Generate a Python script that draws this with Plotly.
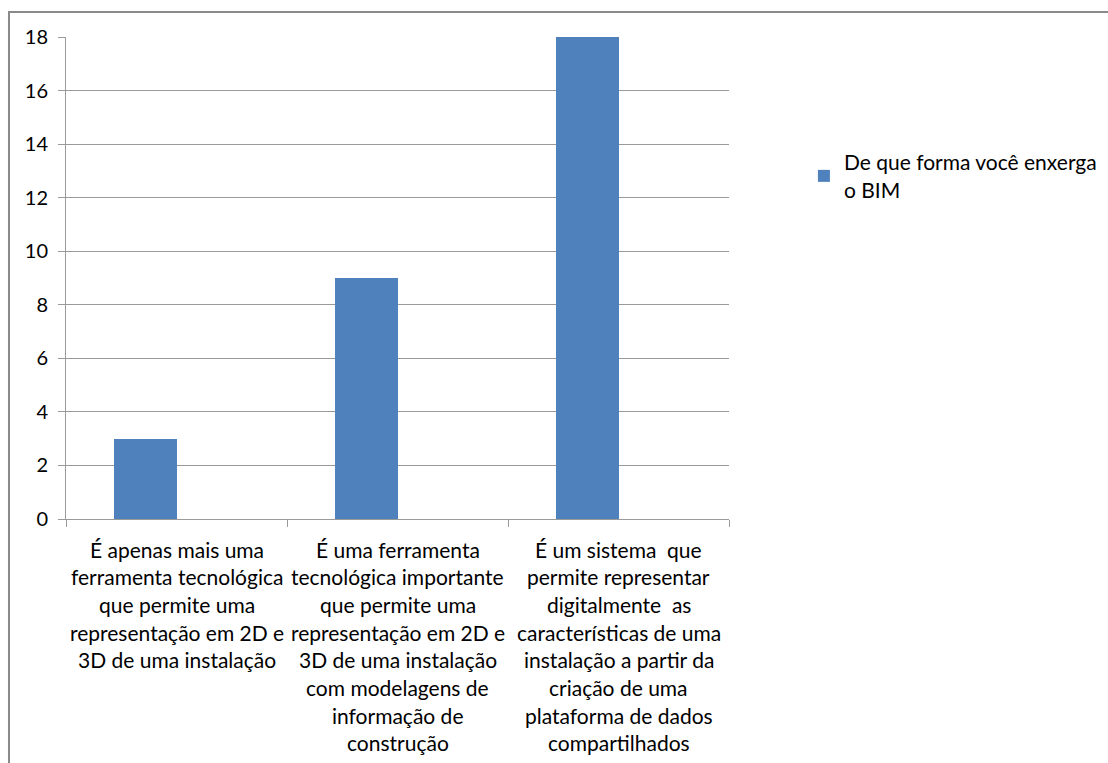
import plotly.graph_objects as go

# Survey responses: how the respondent sees BIM
categories = [
    "É apenas mais uma<br>ferramenta tecnológica<br>que permite uma<br>representação em 2D e<br>3D de uma instalação",
    "É uma ferramenta<br>tecnológica importante<br>que permite uma<br>representação em 2D e<br>3D de uma instalação<br>com modelagens de<br>informação de<br>construção",
    "É um sistema  que<br>permite representar<br>digitalmente  as<br>características de uma<br>instalação a partir da<br>criação de uma<br>plataforma de dados<br>compartilhados",
]
values = [3, 9, 18]
series_name = "De que forma você enxerga<br>o BIM"
y_ticks = [0, 2, 4, 6, 8, 10, 12, 14, 16, 18]

FONT = "Lato"
GRID = "#9a9a9a"
BAR = "#4f81bd"

x_idx = list(range(len(categories)))

fig = go.Figure()
fig.add_trace(go.Bar(
    x=x_idx, y=values, name=series_name,
    marker=dict(color=BAR, line=dict(width=0)),
    width=0.285, offset=-0.285,
    showlegend=True,
))

# Category labels, one line per annotation so the line spacing can be set
annotations = []
for i, label in enumerate(categories):
    for j, line in enumerate(label.split("<br>")):
        annotations.append(dict(
            x=i, y=0, xref="x", yref="y", text=line, showarrow=False,
            xanchor="center", yanchor="middle", yshift=-(30 + j * 27.7),
            font=dict(family=FONT, size=21, color="#000000"),
        ))

fig.update_layout(
    width=1108, height=763,
    margin=dict(l=66, r=379, t=37, b=244, autoexpand=False),
    paper_bgcolor="white", plot_bgcolor="white",
    font=dict(family=FONT, size=20, color="#000000"),
    showlegend=True,
    legend=dict(
        x=1.113, y=0.782, xanchor="left", yanchor="top",
        font=dict(family=FONT, size=21, color="#000000"),
        bgcolor="rgba(0,0,0,0)",
    ),
    annotations=annotations,
    shapes=[dict(
        type="rect", xref="paper", yref="paper",
        x0=-0.086, x1=2.0, y0=-1.0, y1=1.052,
        line=dict(color="#8a8a8a", width=2), fillcolor="rgba(0,0,0,0)",
        layer="below",
    )],
    bargap=0,
)

fig.update_xaxes(
    range=[-0.5, 2.5], tickvals=[-0.5, 0.5, 1.5, 2.5], showticklabels=False,
    ticks="outside", ticklen=7, tickcolor=GRID, tickwidth=1,
    showgrid=False, showline=True, linecolor=GRID, linewidth=1,
    zeroline=False, fixedrange=True,
)
fig.update_yaxes(
    range=[0, 18], tickvals=y_ticks, ticktext=[str(v) for v in y_ticks],
    ticks="outside", ticklen=7, tickcolor=GRID, tickwidth=1,
    showgrid=True, gridcolor=GRID, gridwidth=1,
    showline=True, linecolor=GRID, linewidth=1, zeroline=False,
    tickfont=dict(family=FONT, size=20, color="#000000"),
    ticklabelstandoff=6,
)

fig.write_html("out.html")
